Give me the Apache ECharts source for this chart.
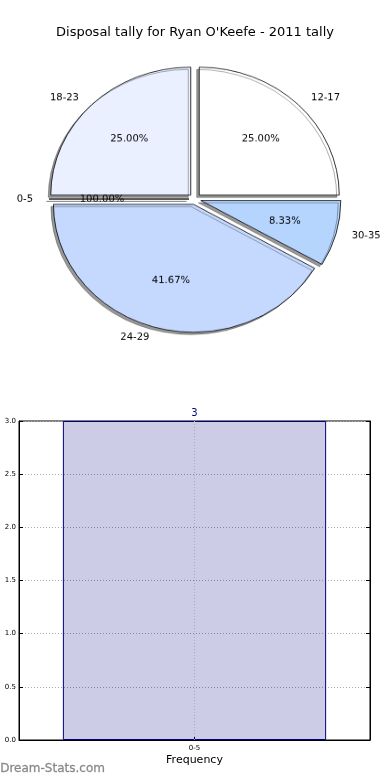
<!DOCTYPE html>
<html><head><meta charset="utf-8">
<script src="https://cdn.jsdelivr.net/npm/echarts@6/dist/echarts.min.js"></script>
<style>
html,body{margin:0;padding:0;background:#fff;}
#main{position:absolute;left:0;top:0;width:390px;height:780px;}
#pie{position:absolute;left:0;top:0;width:390px;height:400px;transform-origin:195px 199px;transform:scaleY(0.914);}
</style></head><body>
<div id="main"></div><div id="pie"></div>
<script>
const titleText = "Disposal tally for Ryan O'Keefe - 2011 tally";
const pieCategories = ['18-23', '0-5', '24-29', '30-35', '12-17'];
const pieValues = [3, 0, 5, 1, 3];
const piePctLabels = ['25.00%', '100.00%', '41.67%', '8.33%', '25.00%'];
const pieColors = ['#eaf0ff', '#d8e6ff', '#c5d9ff', '#b5d5ff', '#ffffff'];
const barCategories = ['0-5'];
const barValues = [3];
const yMin = 0, yMax = 3, yStep = 0.5;
const xAxisTitle = 'Frequency';
const watermark = 'Dream-Stats.com';

const FONT = 'DejaVu Sans';

const main = echarts.init(document.getElementById('main'), null, {renderer: 'canvas'});
main.setOption({
  animation: false,
  textStyle: {fontFamily: FONT},
  title: {text: titleText, left: 'center', top: 21, textStyle: {fontFamily: FONT, fontSize: 13, fontWeight: 'normal', color: '#000'}},
  graphic: [{type: 'text', left: 0, top: 763, style: {text: watermark, font: '12px "DejaVu Sans"', fill: '#888888', stroke: '#b0b0b0', lineWidth: 0.4}}],
  grid: {left: 19, right: 20, top: 421, bottom: 40, show: true, borderColor: '#000', borderWidth: 1},
  xAxis: {
    type: 'category', data: barCategories,
    name: xAxisTitle, nameLocation: 'middle', nameGap: 15,
    nameTextStyle: {fontFamily: FONT, fontSize: 11, color: '#000'},
    axisLine: {lineStyle: {color: '#000'}},
    axisTick: {show: true, inside: true, alignWithLabel: true, length: 4, lineStyle: {color: '#000'}},
    axisLabel: {fontFamily: FONT, fontSize: 7, color: '#000', margin: 5},
    splitLine: {show: false}
  },
  yAxis: [{
    type: 'value', min: yMin, max: yMax, interval: yStep,
    axisLine: {show: true, lineStyle: {color: '#000'}},
    axisTick: {show: true, inside: true, length: 4, lineStyle: {color: '#000'}},
    axisLabel: {fontFamily: FONT, fontSize: 7, color: '#000', margin: 3, formatter: v => v.toFixed(1)},
    splitLine: {show: true, lineStyle: {color: '#aaa', type: [1, 2], width: 1}}
  }, {
    type: 'value', min: yMin, max: yMax, interval: yStep, position: 'right',
    axisLine: {show: true, lineStyle: {color: '#000'}},
    axisTick: {show: true, inside: true, length: 4, lineStyle: {color: '#000'}},
    axisLabel: {show: false}, splitLine: {show: false}
  }],
  series: [{
    type: 'bar', data: barValues, barWidth: '75%',
    itemStyle: {color: 'rgba(0,0,128,0.2)', borderColor: '#000080', borderWidth: 1},
    label: {show: true, position: 'top', distance: 3, color: '#000080', fontSize: 10, fontFamily: FONT},
    markLine: {silent: true, symbol: 'none', label: {show: false},
      lineStyle: {color: '#aaa', type: [1, 2], width: 1},
      data: [{xAxis: barCategories[0]}]}
  }]
});

const pie = echarts.init(document.getElementById('pie'), null, {renderer: 'canvas'});
const mainData = pieCategories.map((c, i) => ({name: c, value: pieValues[i], selected: true, itemStyle: {color: pieColors[i]}}));
const pctData = pieCategories.map((c, i) => ({name: c, value: pieValues[i], selected: true, pct: piePctLabels[i]}));
pie.setOption({
  animation: false,
  series: [{
    type: 'pie', center: [195, 199], radius: [0, 140], startAngle: 90, clockwise: false,
    selectedMode: 'multiple', selectedOffset: 6, avoidLabelOverlap: false, silent: true,
    itemStyle: {borderColor: '#000', borderWidth: 0.8, shadowColor: 'rgba(0,0,0,0.4)', shadowBlur: 0, shadowOffsetX: -2.5, shadowOffsetY: 2.5},
    select: {itemStyle: {borderColor: '#000', borderWidth: 0.8}},
    label: {show: true, position: 'outside', fontFamily: FONT, fontSize: 10, color: '#000', formatter: '{b}'},
    labelLine: {show: false, length: 11, length2: 0},
    emphasis: {disabled: true},
    data: mainData
  }, {
    type: 'pie', center: [195, 199], radius: [0, 168], startAngle: 90, clockwise: false,
    selectedMode: 'multiple', selectedOffset: 6, avoidLabelOverlap: false, silent: true,
    itemStyle: {color: 'rgba(0,0,0,0)', borderWidth: 0},
    select: {itemStyle: {color: 'rgba(0,0,0,0)', borderWidth: 0}},
    label: {show: true, position: 'inside', fontFamily: FONT, fontSize: 10, color: '#000',
      formatter: p => p.data.pct},
    labelLine: {show: false},
    emphasis: {disabled: true},
    data: pctData
  }]
});
</script></body></html>
